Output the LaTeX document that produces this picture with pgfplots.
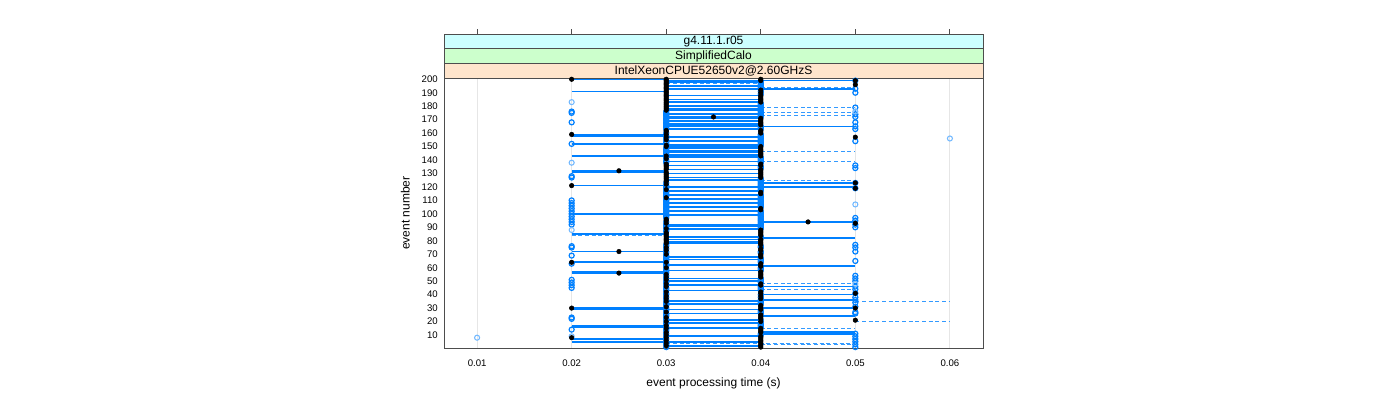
\documentclass[border=0pt]{standalone}
\usepackage{pgfplots}
\pgfplotsset{compat=1.18}
\usepackage{fontspec}
\setmainfont{Liberation Sans}
\definecolor{lblue}{HTML}{0080FF}
\definecolor{stripA}{HTML}{FFE5CC}
\definecolor{stripB}{HTML}{CCFFCC}
\definecolor{stripC}{HTML}{CCFFFF}
\definecolor{gridg}{HTML}{E6E6E6}
\definecolor{frameg}{HTML}{4D4D4D}
\begin{document}
\begin{tikzpicture}
\path[use as bounding box] (0,0) rectangle (1050pt,300pt);
\begin{axis}[
  at={(333pt,39pt)}, anchor=south west,
  width=404.25pt, height=202.3pt, scale only axis,
  xmin=0.0065, xmax=0.0635, ymin=0.34, ymax=200.74,
  clip=false,
  scaled x ticks=false, scaled y ticks=false,
  axis line style={frameg, line width=0.75pt},
  xtick={0.01,0.02,0.03,0.04,0.05,0.06},
  xticklabels={0.01,0.02,0.03,0.04,0.05,0.06},
  ytick={10,20,...,200},
  yticklabels={10,20,30,40,50,60,70,80,90,100,110,120,130,140,150,160,170,180,190,200},
  major tick length=0pt,
  tick style={draw=none},
  xmajorgrids, major grid style={gridg, line width=0.75pt},
  xticklabel style={font=\fontsize{7.2}{8}\selectfont, anchor=center, yshift=-11.5pt, inner sep=0pt},
  yticklabel style={font=\fontsize{7.2}{8}\selectfont, anchor=east, xshift=-4.5pt, inner sep=0pt},
  xlabel={event processing time (s)},
  ylabel={event number},
  xlabel style={font=\fontsize{9}{10}\selectfont, at={(axis description cs:0.5,-0.131)}, anchor=center},
  ylabel style={font=\fontsize{9}{10}\selectfont, at={(axis description cs:-0.0717,0.5)}, anchor=center},
]
% solid segments 0.02-0.03
\addplot[lblue, line width=1.3pt, unbounded coords=jump, forget plot] coordinates {
(0.02,200)(0.03,200)(nan,nan)(0.02,191)(0.03,191)(nan,nan)(0.02,159)(0.03,159)(nan,nan)(0.02,158)(0.03,158)(nan,nan)
(0.02,152)(0.03,152)(nan,nan)(0.02,143)(0.03,143)(nan,nan)(0.02,132)(0.03,132)(nan,nan)(0.02,131)(0.03,131)(nan,nan)
(0.02,121)(0.03,121)(nan,nan)(0.02,100)(0.03,100)(nan,nan)(0.02,85)(0.03,85)(nan,nan)(0.02,72)(0.03,72)(nan,nan)
(0.02,64)(0.03,64)(nan,nan)(0.02,57)(0.03,57)(nan,nan)(0.02,56)(0.03,56)(nan,nan)(0.02,30)(0.03,30)(nan,nan)
(0.02,29)(0.03,29)(nan,nan)(0.02,17)(0.03,17)(nan,nan)(0.02,16)(0.03,16)(nan,nan)(0.02,7)(0.03,7)(nan,nan)
(0.02,5)(0.03,5)
};
% solid segments 0.03-0.04
\addplot[lblue, line width=1.3pt, unbounded coords=jump, forget plot] coordinates {
(0.03,199)(0.04,199)(nan,nan)(0.03,198)(0.04,198)(nan,nan)(0.03,195)(0.04,195)(nan,nan)(0.03,193)(0.04,193)(nan,nan)
(0.03,188)(0.04,188)(nan,nan)(0.03,185)(0.04,185)(nan,nan)(0.03,183)(0.04,183)(nan,nan)(0.03,180)(0.04,180)(nan,nan)
(0.03,178)(0.04,178)(nan,nan)(0.03,177)(0.04,177)(nan,nan)(0.03,174)(0.04,174)(nan,nan)(0.03,172)(0.04,172)(nan,nan)
(0.03,171)(0.04,171)(nan,nan)(0.03,169)(0.04,169)(nan,nan)(0.03,167)(0.04,167)(nan,nan)(0.03,166)(0.04,166)(nan,nan)
(0.03,165)(0.04,165)(nan,nan)(0.03,163)(0.04,163)(nan,nan)(0.03,157)(0.04,157)(nan,nan)(0.03,154)(0.04,154)(nan,nan)
(0.03,151)(0.04,151)(nan,nan)(0.03,150)(0.04,150)(nan,nan)(0.03,149)(0.04,149)(nan,nan)(0.03,147)(0.04,147)(nan,nan)
(0.03,146)(0.04,146)(nan,nan)(0.03,144)(0.04,144)(nan,nan)(0.03,142)(0.04,142)(nan,nan)(0.03,139)(0.04,139)(nan,nan)
(0.03,136)(0.04,136)(nan,nan)(0.03,133)(0.04,133)(nan,nan)(0.03,130)(0.04,130)(nan,nan)(0.03,127)(0.04,127)(nan,nan)
(0.03,125)(0.04,125)(nan,nan)(0.03,120)(0.04,120)(nan,nan)(0.03,117)(0.04,117)(nan,nan)(0.03,114)(0.04,114)(nan,nan)
(0.03,111)(0.04,111)(nan,nan)(0.03,108)(0.04,108)(nan,nan)(0.03,105)(0.04,105)(nan,nan)(0.03,102)(0.04,102)(nan,nan)
(0.03,99)(0.04,99)(nan,nan)(0.03,92)(0.04,92)(nan,nan)(0.03,91)(0.04,91)(nan,nan)(0.03,89)(0.04,89)(nan,nan)
(0.03,83)(0.04,83)(nan,nan)(0.03,81)(0.04,81)(nan,nan)(0.03,79)(0.04,79)(nan,nan)(0.03,78)(0.04,78)(nan,nan)
(0.03,68)(0.04,68)(nan,nan)(0.03,66)(0.04,66)(nan,nan)(0.03,62)(0.04,62)(nan,nan)(0.03,58)(0.04,58)(nan,nan)
(0.03,52)(0.04,52)(nan,nan)(0.03,50)(0.04,50)(nan,nan)(0.03,47)(0.04,47)(nan,nan)(0.03,43)(0.04,43)(nan,nan)
(0.03,35)(0.04,35)(nan,nan)(0.03,33)(0.04,33)(nan,nan)(0.03,29)(0.04,29)(nan,nan)(0.03,26)(0.04,26)(nan,nan)
(0.03,21)(0.04,21)(nan,nan)(0.03,19)(0.04,19)(nan,nan)(0.03,15)(0.04,15)(nan,nan)(0.03,9)(0.04,9)(nan,nan)
(0.03,5)(0.04,5)(nan,nan)(0.03,2)(0.04,2)
};
% solid segments 0.04-0.05
\addplot[lblue, line width=1.3pt, unbounded coords=jump, forget plot] coordinates {
(0.04,199)(0.05,199)(nan,nan)(0.04,193)(0.05,193)(nan,nan)(0.04,165)(0.05,165)(nan,nan)(0.04,123)(0.05,123)(nan,nan)
(0.04,120)(0.05,120)(nan,nan)(0.04,94)(0.05,94)(nan,nan)(0.04,82)(0.05,82)(nan,nan)(0.04,61)(0.05,61)(nan,nan)
(0.04,46)(0.05,46)(nan,nan)(0.04,40)(0.05,40)(nan,nan)(0.04,36)(0.05,36)(nan,nan)(0.04,30)(0.05,30)(nan,nan)
(0.04,24)(0.05,24)(nan,nan)(0.04,12)(0.05,12)(nan,nan)(0.04,11)(0.05,11)
};
% dashed segments
\addplot[lblue!80, line width=0.75pt, dash pattern=on 3pt off 2pt, unbounded coords=jump, forget plot] coordinates {
(0.03,197)(0.04,197)(nan,nan)(0.03,4)(0.05,4)(nan,nan)(0.02,84)(0.03,84)(nan,nan)
(0.04,194)(0.05,194)(nan,nan)(0.04,179)(0.05,179)(nan,nan)(0.04,175)(0.05,175)(nan,nan)(0.04,173)(0.05,173)(nan,nan)
(0.04,146)(0.05,146)(nan,nan)(0.04,139)(0.05,139)(nan,nan)(0.04,125)(0.05,125)(nan,nan)(0.04,48)(0.05,48)(nan,nan)
(0.04,44)(0.05,44)(nan,nan)(0.04,15)(0.05,15)(nan,nan)(0.04,3)(0.05,3)(nan,nan)
(0.05,35)(0.06,35)(nan,nan)(0.05,20)(0.06,20)
};
% open circles (individual runs)
\addplot[only marks, mark=o, mark size=1.9pt, lblue, mark options={line width=0.9pt}, forget plot] coordinates {
(0.02,176)(0.02,175)(0.02,168)(0.02,152)(0.02,128)(0.02,127)(0.02,110)(0.02,108)(0.02,106)(0.02,104)(0.02,102)
(0.02,100)(0.02,98)(0.02,96)(0.02,94)(0.02,92)(0.02,76)(0.02,75)(0.02,69)(0.02,63)(0.02,51)(0.02,49)(0.02,47)
(0.02,45)(0.02,23)(0.02,22)(0.02,14)
(0.03,176)(0.03,175)(0.03,174)(0.03,173)(0.03,172)(0.03,171)(0.03,170)(0.03,169)(0.03,168)(0.03,167)(0.03,166)
(0.03,165)(0.03,164)(0.03,163)(0.03,160)(0.03,158)(0.03,156)(0.03,154)(0.03,153)(0.03,152)(0.03,149)(0.03,148)
(0.03,147)(0.03,146)(0.03,145)(0.03,144)(0.03,142)(0.03,140)(0.03,139)(0.03,138)(0.03,123)(0.03,121)(0.03,120)
(0.03,119)(0.03,117)(0.03,116)(0.03,115)(0.03,114)(0.03,113)(0.03,111)(0.03,110)(0.03,109)(0.03,108)(0.03,107)
(0.03,106)(0.03,105)(0.03,104)(0.03,103)(0.03,102)(0.03,101)(0.03,100)(0.03,99)(0.03,98)(0.03,97)(0.03,94)
(0.03,92)(0.03,91)(0.03,90)(0.03,88)(0.03,87)(0.03,77)(0.03,76)(0.03,74)(0.03,72)(0.03,71)(0.03,69)(0.03,68)
(0.03,67)(0.03,66)(0.03,65)(0.03,63)(0.03,62)(0.03,61)(0.03,59)(0.03,58)(0.03,57)(0.03,56)(0.03,54)(0.03,52)
(0.03,50)(0.03,49)(0.03,47)(0.03,45)(0.03,44)(0.03,43)(0.03,41)(0.03,40)(0.03,38)(0.03,36)(0.03,34)(0.03,33)
(0.03,32)(0.03,30)(0.03,29)(0.03,28)(0.03,26)(0.03,25)(0.03,24)(0.03,22)(0.03,21)(0.03,19)(0.03,18)(0.03,16)
(0.03,14)(0.03,13)(0.03,11)(0.03,9)(0.03,7)(0.03,5)(0.03,3)(0.03,1)
(0.04,198)(0.04,197)(0.04,196)(0.04,195)(0.04,194)(0.04,193)(0.04,191)(0.04,189)(0.04,182)(0.04,181)(0.04,180)
(0.04,179)(0.04,178)(0.04,177)(0.04,176)(0.04,175)(0.04,174)(0.04,173)(0.04,172)(0.04,165)(0.04,164)(0.04,163)
(0.04,159)(0.04,158)(0.04,157)(0.04,156)(0.04,155)(0.04,154)(0.04,153)(0.04,152)(0.04,151)(0.04,142)(0.04,141)
(0.04,140)(0.04,139)(0.04,138)(0.04,135)(0.04,134)(0.04,126)(0.04,125)(0.04,124)(0.04,123)(0.04,122)(0.04,121)
(0.04,120)(0.04,119)(0.04,118)(0.04,117)(0.04,114)(0.04,113)(0.04,112)(0.04,111)(0.04,110)(0.04,109)(0.04,108)
(0.04,107)(0.04,106)(0.04,105)(0.04,102)(0.04,101)(0.04,100)(0.04,99)(0.04,98)(0.04,97)(0.04,96)(0.04,95)
(0.04,94)(0.04,93)(0.04,92)(0.04,91)(0.04,90)(0.04,89)(0.04,83)(0.04,82)(0.04,76)(0.04,75)(0.04,72)(0.04,71)
(0.04,67)(0.04,66)(0.04,65)(0.04,64)(0.04,60)(0.04,59)(0.04,58)(0.04,52)(0.04,51)(0.04,50)(0.04,49)(0.04,46)
(0.04,45)(0.04,44)(0.04,43)(0.04,40)(0.04,38)(0.04,36)(0.04,35)(0.04,34)(0.04,33)(0.04,28)(0.04,27)(0.04,26)
(0.04,21)(0.04,19)(0.04,18)(0.04,17)(0.04,16)(0.04,11)(0.04,10)
(0.05,199)(0.05,193)(0.05,190)(0.05,179)(0.05,174)(0.05,172)(0.05,168)(0.05,165)(0.05,163)(0.05,154)(0.05,136)
(0.05,134)(0.05,123)(0.05,119)(0.05,97)(0.05,95)(0.05,92)(0.05,90)(0.05,77)(0.05,75)(0.05,72)(0.05,65)
(0.05,54)(0.05,52)(0.05,50)(0.05,46)(0.05,44)(0.05,41)(0.05,38)(0.05,36)(0.05,34)(0.05,31)(0.05,27)(0.05,26)
(0.05,11)(0.05,9)(0.05,7)(0.05,5)(0.05,3)(0.05,1)
};
% lighter open circles
\addplot[only marks, mark=o, mark size=1.9pt, lblue!55, mark options={line width=0.8pt}, forget plot] coordinates {
(0.01,8)(0.02,183)(0.02,138)(0.02,88)(0.02,9)(0.05,176)(0.05,107)(0.05,48)(0.06,156)
};
% filled black dots (averages)
\addplot[only marks, mark=*, mark size=1.7pt, black, forget plot] coordinates {
(0.02,200)(0.02,159)(0.02,121)(0.02,64)(0.02,30)(0.02,8)
(0.025,132)(0.025,72)(0.025,56)(0.035,172)(0.045,94)
(0.03,200)(0.03,199)(0.03,198)(0.03,197)(0.03,196)(0.03,195)(0.03,194)(0.03,193)(0.03,192)(0.03,191)(0.03,190)
(0.03,189)(0.03,188)(0.03,187)(0.03,186)(0.03,185)(0.03,184)(0.03,183)(0.03,182)(0.03,181)(0.03,180)(0.03,179)
(0.03,178)(0.03,177)(0.03,162)(0.03,161)(0.03,159)(0.03,157)(0.03,155)(0.03,151)(0.03,150)(0.03,143)(0.03,141)
(0.03,137)(0.03,136)(0.03,135)(0.03,134)(0.03,133)(0.03,131)(0.03,130)(0.03,129)(0.03,128)(0.03,127)(0.03,126)
(0.03,125)(0.03,124)(0.03,122)(0.03,118)(0.03,112)(0.03,96)(0.03,95)(0.03,93)(0.03,89)(0.03,86)(0.03,85)
(0.03,84)(0.03,83)(0.03,82)(0.03,81)(0.03,80)(0.03,79)(0.03,78)(0.03,75)(0.03,73)(0.03,70)(0.03,64)(0.03,60)
(0.03,55)(0.03,53)(0.03,51)(0.03,48)(0.03,46)(0.03,42)(0.03,39)(0.03,37)(0.03,35)(0.03,31)(0.03,27)(0.03,23)
(0.03,20)(0.03,17)(0.03,15)(0.03,12)(0.03,10)(0.03,8)(0.03,6)(0.03,4)(0.03,2)
(0.04,200)(0.04,199)(0.04,192)(0.04,190)(0.04,188)(0.04,187)(0.04,186)(0.04,185)(0.04,184)(0.04,183)(0.04,171)
(0.04,170)(0.04,169)(0.04,168)(0.04,167)(0.04,166)(0.04,162)(0.04,161)(0.04,160)(0.04,150)(0.04,149)(0.04,148)
(0.04,147)(0.04,146)(0.04,145)(0.04,144)(0.04,143)(0.04,137)(0.04,136)(0.04,133)(0.04,132)(0.04,131)(0.04,130)
(0.04,129)(0.04,128)(0.04,127)(0.04,116)(0.04,115)(0.04,104)(0.04,103)(0.04,88)(0.04,87)(0.04,86)(0.04,85)
(0.04,84)(0.04,81)(0.04,80)(0.04,79)(0.04,78)(0.04,77)(0.04,74)(0.04,73)(0.04,70)(0.04,69)(0.04,68)(0.04,63)
(0.04,62)(0.04,61)(0.04,57)(0.04,56)(0.04,55)(0.04,54)(0.04,53)(0.04,48)(0.04,47)(0.04,42)(0.04,41)(0.04,39)
(0.04,37)(0.04,32)(0.04,31)(0.04,30)(0.04,29)(0.04,25)(0.04,24)(0.04,23)(0.04,22)(0.04,20)(0.04,15)(0.04,14)
(0.04,13)(0.04,12)(0.04,9)(0.04,8)(0.04,7)(0.04,6)(0.04,5)(0.04,4)(0.04,3)(0.04,2)(0.04,1)
(0.05,199)(0.05,196)(0.05,157)(0.05,123)(0.05,119)(0.05,93)(0.05,41)(0.05,30)(0.05,21)
};
% strips
\draw[frameg, line width=0.75pt, fill=stripA] (rel axis cs:0,1) rectangle ([yshift=11pt]rel axis cs:1,1);
\draw[frameg, line width=0.75pt, fill=stripB] ([yshift=11pt]rel axis cs:0,1) rectangle ([yshift=22pt]rel axis cs:1,1);
\draw[frameg, line width=0.75pt, fill=stripC] ([yshift=22pt]rel axis cs:0,1) rectangle ([yshift=33pt]rel axis cs:1,1);
\node[font=\fontsize{9}{10}\selectfont, inner sep=0pt] at ([yshift=5.5pt]rel axis cs:0.5,1) {IntelXeonCPUE52650v2@2.60GHzS};
\node[font=\fontsize{9}{10}\selectfont, inner sep=0pt] at ([yshift=16.5pt]rel axis cs:0.5,1) {SimplifiedCalo};
\node[font=\fontsize{9}{10}\selectfont, inner sep=0pt] at ([yshift=27.5pt]rel axis cs:0.5,1) {g4.11.1.r05};
% top ticks
\draw[frameg, line width=0.75pt] ([yshift=33pt]axis cs:0.01,200.74) -- ([yshift=36.75pt]axis cs:0.01,200.74);
\draw[frameg, line width=0.75pt] ([yshift=33pt]axis cs:0.02,200.74) -- ([yshift=36.75pt]axis cs:0.02,200.74);
\draw[frameg, line width=0.75pt] ([yshift=33pt]axis cs:0.03,200.74) -- ([yshift=36.75pt]axis cs:0.03,200.74);
\draw[frameg, line width=0.75pt] ([yshift=33pt]axis cs:0.04,200.74) -- ([yshift=36.75pt]axis cs:0.04,200.74);
\draw[frameg, line width=0.75pt] ([yshift=33pt]axis cs:0.05,200.74) -- ([yshift=36.75pt]axis cs:0.05,200.74);
\draw[frameg, line width=0.75pt] ([yshift=33pt]axis cs:0.06,200.74) -- ([yshift=36.75pt]axis cs:0.06,200.74);
\end{axis}
\end{tikzpicture}
\end{document}
